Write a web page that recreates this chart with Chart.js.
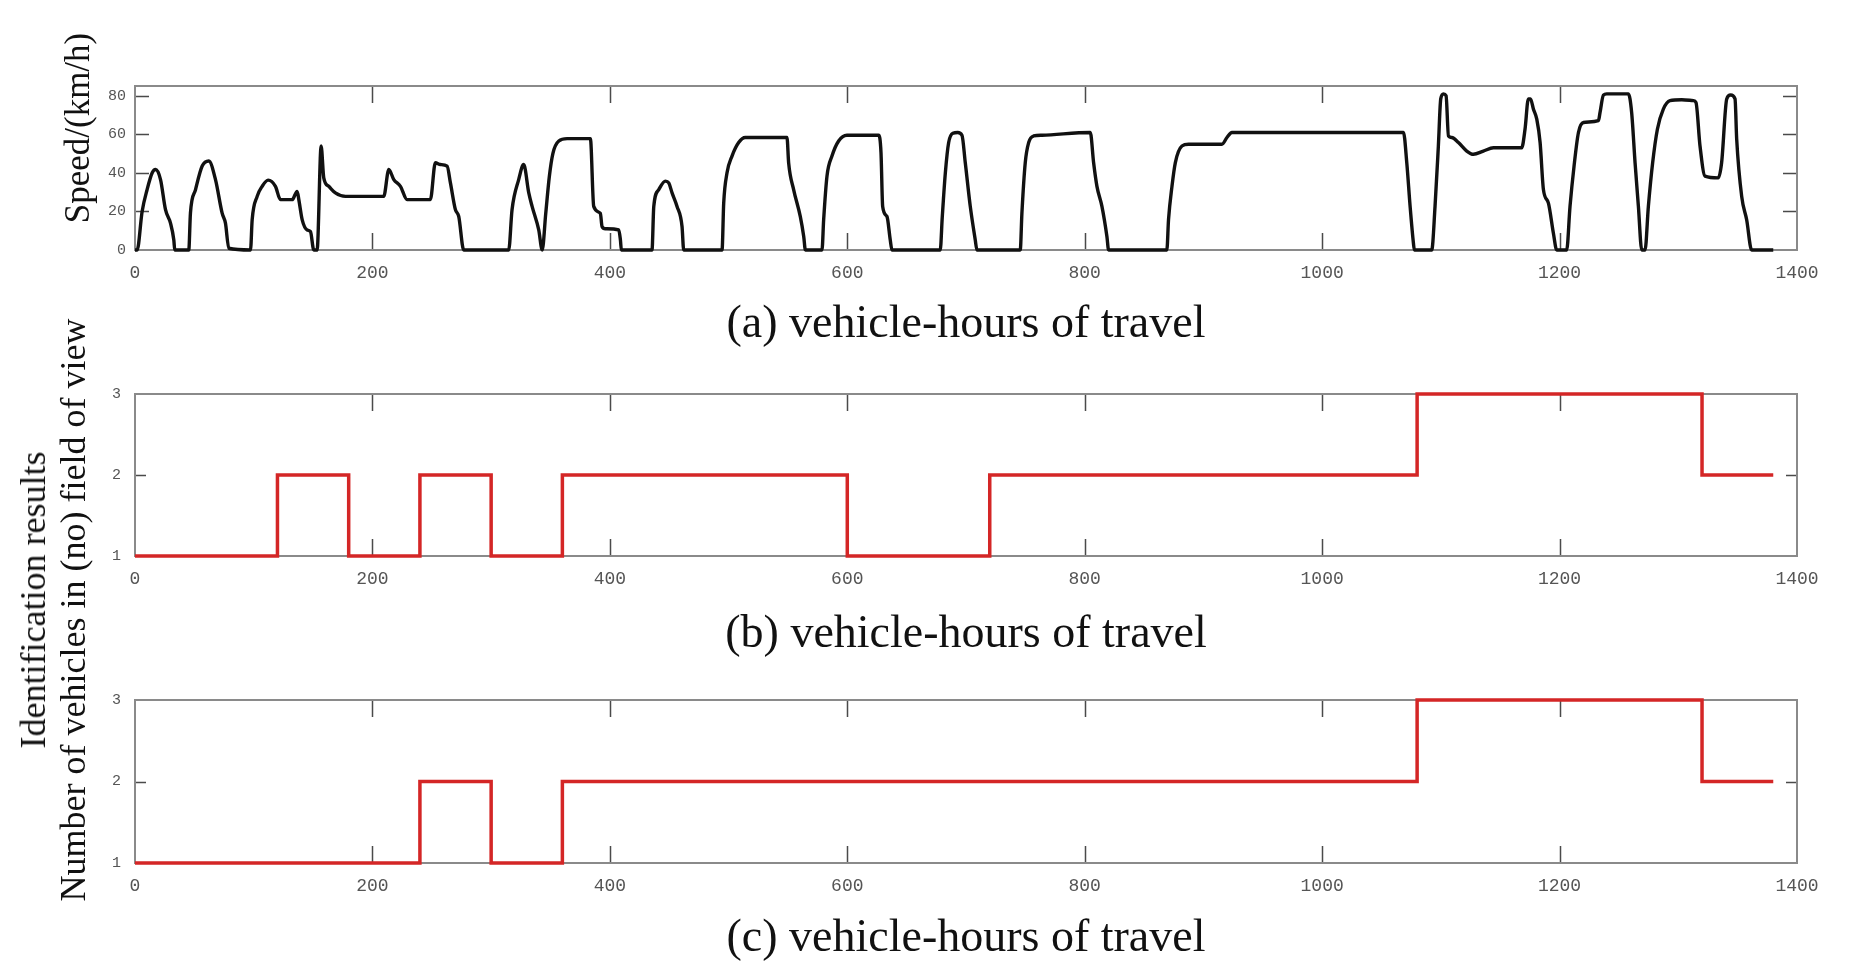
<!DOCTYPE html>
<html>
<head>
<meta charset="utf-8">
<script src="https://cdn.jsdelivr.net/npm/chart.js@4.4.1/dist/chart.umd.min.js"></script>
<style>
html,body{margin:0;padding:0;background:#fff;width:1866px;height:980px;overflow:hidden;position:relative;}
canvas{position:absolute;left:0;}
.ylab{position:absolute;font-family:"Liberation Serif","Times New Roman",serif;color:#111;white-space:nowrap;transform:translate(-50%,-50%) rotate(-90deg);line-height:1;}
</style>
</head>
<body>
<canvas id="ca" width="1866" height="353" style="top:0px"></canvas>
<canvas id="cb" width="1866" height="310" style="top:353px"></canvas>
<canvas id="cc" width="1866" height="304" style="top:663px"></canvas>
<div class="ylab" style="left:77px;top:128px;font-size:35px">Speed/(km/h)</div>
<div class="ylab" style="left:33px;top:600px;font-size:36px">Identification results</div>
<div class="ylab" style="left:73px;top:610px;font-size:36px">Number of vehicles in (no) field of view</div>
<script>
// ---- data ----
const xTicks = [0, 200, 400, 600, 800, 1000, 1200, 1400];
const speedTicks = [0, 20, 40, 60, 80];
const countTicks = [1, 2, 3];

const titleA = '(a) vehicle-hours of travel';
const titleB = '(b) vehicle-hours of travel';
const titleC = '(c) vehicle-hours of travel';

const speedX = [0,1.8,6,10.2,14.5,17.3,21.5,25.7,29.9,32.7,33.5,45.3,46.7,51,56.6,62.2,67.8,73.4,76.2,79,
  97.3,98.7,102.9,107.1,112.1,118.3,122.5,132.4,136.6,138,140.8,145,147.8,150.6,153.4,156.8,159,163.2,168.8,177.3,
  209.5,213.8,218,223.6,229.2,248.8,253,257.3,262.9,265.7,269.9,272.7,276.9,314.8,317.6,323.2,327.4,331.7,334.5,340.1,
  343,346,349,352,357,364,383.6,386.4,392,393.4,396.2,407.5,408.9,409.7,
  435.5,437,441.2,446.8,449.6,452.4,456.6,460.8,462.2,494.5,495.9,498.7,502.9,508.5,514.1,549.2,550.6,554.8,560.4,563.3,564.7,
  578.7,580.1,582.9,587.1,592.7,599.7,626.4,628.4,629.8,633.4,636.2,637.6,678.3,680,682.6,685.4,689,693,696.6,699.4,703.6,707.8,709.2,
  745.7,747.1,749.9,752.8,757,764,804.7,807.5,810.3,814.5,818.7,820.1,869.2,870.6,873.5,876.3,881.9,887.5,915.6,919.8,924,
  1068.5,1071.3,1074.1,1076.9,1077.7,1092.3,1095.1,1097.9,1099.9,1102.2,1104.4,1106.4,1109.2,1114.8,1121.8,1127.4,1135.8,1144.3,
  1168.1,1170.9,1173.7,1175.5,1178,1180.8,1183.6,1186.4,1190.6,1194.8,1197.6,1206,1208.8,1212.2,1215.9,1220.1,1232.7,1234.1,1236.9,1239.7,
  1258,1260.7,1263.6,1266.4,1269.2,1272,1274.8,1278.4,1282.4,1287.4,1293,1302.9,1312.7,1314.9,1318.3,1322.5,1333.7,1336.5,1340.8,1344.1,
  1347.8,1349.2,1353.4,1357.6,1361.8,1380];
const speedY = [0,0,20,31.3,40,41.7,36.5,20.9,13.9,5.2,0,0,19.1,31.3,43.5,46.1,36.5,19.1,13.9,0.9,
  0,15.7,27.8,33,36.2,33,26.1,26.1,30.4,26.1,15.7,10.4,9.6,0,0,53.9,37.4,33,29.6,27.8,
  27.8,41.7,36.5,33,26.1,26.1,45.2,44.3,43.5,34.8,20.9,17.4,0,0,20.9,36.5,44.3,29.6,22.6,10.4,
  0,19,38,50,56.5,57.7,57.7,22.6,19,12.2,11,10.4,5.2,0,
  0,22.6,31.3,35.7,34.8,29.6,22.6,12.2,0,0,24.3,40,48.7,55.7,58.3,58.3,45.2,31.3,17.4,7,0,
  0,15.7,38.3,48.7,56.5,59.5,59.5,50.4,22.6,17.4,5.2,0,0,17,40,55.7,60.5,60.9,59.5,45.2,22.6,5.2,0,
  0,19.1,45.2,55.7,59.1,59.5,60.9,45.2,33,22.6,7,0,0,15.7,33,45.2,53.9,54.8,54.8,58.3,60.9,
  60.9,45.2,22.6,3.5,0,0,22.6,53.9,78.3,80.9,80,59.1,58.3,55.7,51.3,49.6,51.3,53,
  53,62.6,78.3,78.3,73,67.8,55.7,31.3,24.3,8.7,0,0,22.6,43.5,60.9,66.1,67,71.3,80.3,80.9,
  80.9,71.3,45.2,22.6,0,0,22.6,45.2,62.6,73,77.4,77.9,77.4,76.5,53.9,38.3,37.4,45.2,78.3,80.3,
  78.3,57.4,27.8,15.7,0,0];

const stepXB = [0, 120, 180, 240, 300, 360, 600, 720, 1080, 1320, 1380];
const stepYB = [1, 2, 1, 2, 1, 2, 1, 2, 3, 2, 2];
const stepXC = [0, 240, 300, 360, 1080, 1320, 1380];
const stepYC = [1, 2, 1, 2, 3, 2, 2];

// ---- helpers ----
const pairs = (xs, ys) => xs.map((x, i) => ({x: x, y: ys[i]}));

const framePlugin = {
  id: 'frame',
  beforeDatasetsDraw(chart, args, opts) {
    const {ctx, chartArea: a, scales: {x, y}} = chart;
    ctx.save();
    ctx.strokeStyle = '#4a4a4a';
    ctx.lineWidth = 1.5;
    ctx.beginPath();
    x.ticks.forEach(t => {
      if (t.value <= x.min || t.value >= x.max) return;
      const px = Math.round(x.getPixelForValue(t.value)) + 0.5;
      ctx.moveTo(px, a.bottom); ctx.lineTo(px, a.bottom - opts.xLen);
      ctx.moveTo(px, a.top); ctx.lineTo(px, a.top + opts.xLen);
    });
    y.ticks.forEach(t => {
      if (t.value <= y.min || t.value >= y.max) return;
      const py = Math.round(y.getPixelForValue(t.value)) + 0.5;
      ctx.moveTo(a.left, py); ctx.lineTo(a.left + opts.yLen, py);
      ctx.moveTo(a.right, py); ctx.lineTo(a.right - opts.yLen, py);
    });
    ctx.stroke();
    ctx.strokeStyle = '#8a8a8a';
    ctx.lineWidth = 2;
    ctx.strokeRect(a.left, a.top, a.width, a.height);
    ctx.restore();
  }
};

function makeChart(id, cfg) {
  const xScale = {
    type: 'linear', min: 0, max: 1400,
    afterBuildTicks: s => { s.ticks = xTicks.map(v => ({value: v})); },
    ticks: {autoSkip: false, maxRotation: 0, padding: 12, color: '#555',
      callback: v => String(v),
      font: {family: '"Liberation Mono", "DejaVu Sans Mono", monospace', size: 18}},
    grid: {display: false, drawTicks: false},
    border: {display: false},
    title: {display: true, text: cfg.title, color: '#111', padding: 0,
      font: {family: '"Liberation Serif", "Times New Roman", serif', size: 46}},
    afterFit: s => { s.height = cfg.xHeight; }
  };
  const yScale = {
    type: 'linear', min: cfg.yMin, max: cfg.yMax,
    afterBuildTicks: s => { s.ticks = cfg.yTicks.map(v => ({value: v})); },
    ticks: {padding: cfg.yPad, color: '#555',
      callback: v => String(v),
      font: {family: '"Liberation Mono", "DejaVu Sans Mono", monospace', size: 15}},
    grid: {display: false, drawTicks: false},
    border: {display: false},
    afterFit: s => { s.width = 135; }
  };
  return new Chart(document.getElementById(id), {
    type: 'line',
    data: {datasets: [{
      data: cfg.data,
      borderColor: cfg.color,
      borderWidth: cfg.lineWidth,
      pointRadius: 0,
      fill: false,
      clip: 8,
      stepped: cfg.stepped || false,
      cubicInterpolationMode: cfg.stepped ? 'default' : 'monotone'
    }]},
    options: {
      responsive: false,
      animation: false,
      devicePixelRatio: 1,
      layout: {padding: {left: 0, right: 69, top: cfg.padTop, bottom: 0}},
      scales: {x: xScale, y: yScale},
      plugins: {legend: {display: false}, tooltip: {enabled: false},
        frame: {xLen: 17, yLen: cfg.yLen}}
    },
    plugins: [framePlugin]
  });
}

makeChart('ca', {title: titleA, data: pairs(speedX, speedY), color: '#111', lineWidth: 3.4,
  yMin: 0, yMax: 85, yTicks: speedTicks, yPad: 9, yLen: 14, padTop: 86, xHeight: 103});
makeChart('cb', {title: titleB, data: pairs(stepXB, stepYB), color: '#d42626', lineWidth: 3.5, stepped: 'before',
  yMin: 1, yMax: 3, yTicks: countTicks, yPad: 14, yLen: 11, padTop: 41, xHeight: 107});
makeChart('cc', {title: titleC, data: pairs(stepXC, stepYC), color: '#d42626', lineWidth: 3.5, stepped: 'before',
  yMin: 1, yMax: 3, yTicks: countTicks, yPad: 14, yLen: 11, padTop: 37, xHeight: 104});
</script>
</body>
</html>
